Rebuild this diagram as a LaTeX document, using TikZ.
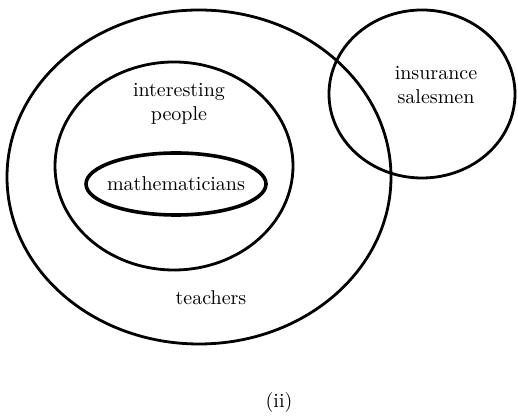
\documentclass[tikz,border=0pt]{standalone}
\usetikzlibrary{shapes.geometric}
\usetikzlibrary{positioning}

\begin{document}
\begin{tikzpicture}[
			x = 0.5pt, y = 0.5pt,
			set/.style = {
				ellipse, draw = black, line width = 1.4pt,
				inner sep = 0, outer sep = 0,
			},
			innerset/.style = {set, line width = 1.8pt},
			tag/.style = {font = \normalsize, align = center},
		]

		\useasboundingbox (0, 0) rectangle (518, 416);

		% the nested sets
		\node[
			set, minimum width = 192pt, minimum height = 167pt
		] (teachers) at (199, 239) {};
		\node[
			set, minimum width = 119pt, minimum height = 104pt
		] (people) at (174, 250) {};
		\node[
			innerset, minimum width = 90pt, minimum height = 31pt
		] (maths) at (176, 232) {};

		% the set that overlaps
		\node[
			set, minimum width = 93pt, minimum height = 84pt
		] (sales) at (422, 322) {};

		% labels
		\node[tag] (Ltea) at (211, 118) {teachers};
		\node[tag] (Lpeo) at (179, 312) {interesting\\people};
		\node[tag] (Lmat) at (maths) {mathematicians};
		\node[tag] (Lsal) at (436, 331) {insurance\\salesmen};

		\node[tag] (caption) at (279, 13) {(ii)};

	\end{tikzpicture}
\end{document}
